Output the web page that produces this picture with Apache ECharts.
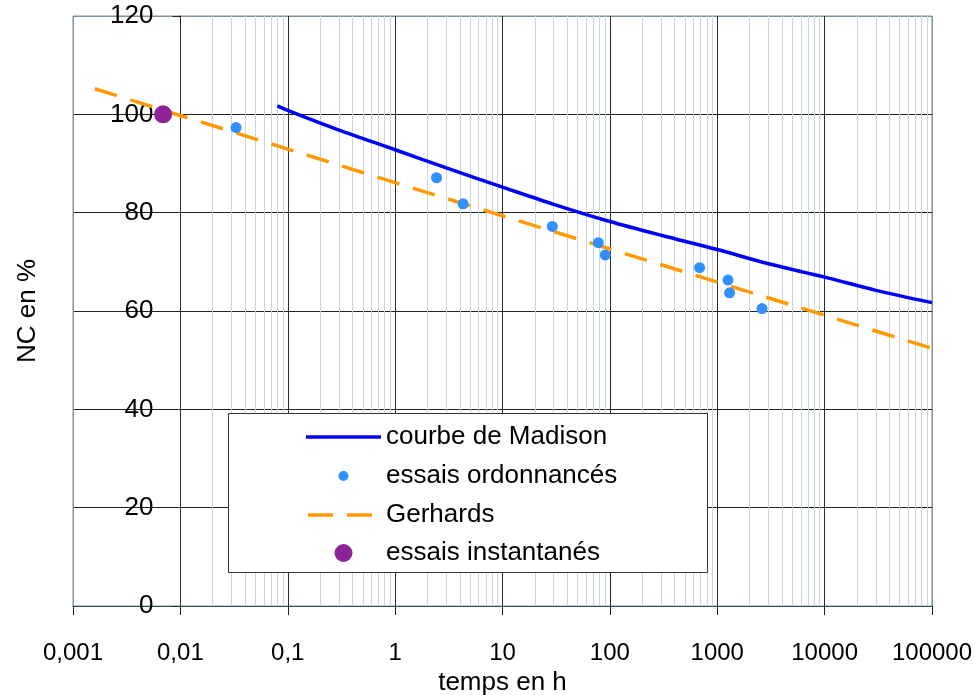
<!DOCTYPE html>
<html>
<head>
<meta charset="utf-8">
<script src="https://cdn.jsdelivr.net/npm/echarts@6/dist/echarts.min.js"></script>
<style>
html, body { margin: 0; padding: 0; background: #fff; }
#chart { width: 975px; height: 695px; }
</style>
</head>
<body>
<div id="chart"></div>
<script>
const FONT = "'Liberation Sans', Arial, Helvetica, sans-serif";

// Time axis tick labels (decimal comma), one per decade
const timeTickLabels = ['0,001', '0,01', '0,1', '1', '10', '100', '1000', '10000', '100000'];

// Madison curve: time (h) and NC (%)
const madisonTime = [0.08, 0.1, 0.3, 1, 3, 10, 30, 100, 300, 1000, 3000, 10000, 30000, 100000];
const madisonNC   = [101.7, 100.8, 96.8, 92.8, 89.1, 85.2, 81.7, 78.2, 75.4, 72.5, 69.6, 66.9, 64.2, 61.7];

// Scheduled load tests
const ordTime = [0.033, 2.43, 4.3, 29.1, 78, 90.6, 685, 1259, 1303, 2612];
const ordNC   = [97.3, 87.1, 81.8, 77.2, 73.9, 71.4, 68.8, 66.3, 63.7, 60.5];

// Gerhards model (straight line on the log time scale)
const gerhardsTime = [0.0016, 1, 100000];
const gerhardsNC   = [105.2, 86.1, 52.4];

// Short-term tests
const instTime = [0.0069];
const instNC   = [100];

const pairs = (xs, ys) => xs.map((x, i) => [x, ys[i]]);

// Minor vertical grid lines at 2..9 of every decade
const minorGrid = [];
for (let e = -3; e < 5; e++) {
  for (let k = 2; k <= 9; k++) minorGrid.push({ xAxis: k * Math.pow(10, e) });
}

const majorX = '#2b2b2b';
const border = '#7d929b';
const BLUE = '#0000ff';
const ORANGE = '#ff9900';

const chart = echarts.init(document.getElementById('chart'), null, { renderer: 'canvas' });

const legendBase = {
  orient: 'horizontal',
  padding: 0,
  itemWidth: 75,
  selectedMode: false,
  textStyle: { fontSize: 26, color: '#000', fontFamily: FONT }
};

chart.setOption({
  animation: false,
  backgroundColor: '#fff',
  grid: {
    left: 73, right: 43, top: 16, bottom: 89,
    outerBoundsMode: 'none',
    containLabel: false,
    show: true, borderColor: border, borderWidth: 1, backgroundColor: 'transparent'
  },
  xAxis: {
    type: 'log',
    logBase: 10,
    min: 0.001,
    max: 100000,
    axisLine: { show: true, lineStyle: { color: '#3b4f58', width: 1 } },
    axisTick: { show: true, length: 9, lineStyle: { color: '#222' } },
    axisLabel: {
      fontSize: 24, color: '#000', fontFamily: FONT, margin: 35,
      formatter: v => timeTickLabels[Math.round(Math.log10(v)) + 3]
    },
    splitLine: {
      show: true,
      lineStyle: { color: [border, majorX, majorX, majorX, majorX, majorX, majorX, majorX, border], width: 1 }
    },
    name: 'temps en h',
    nameLocation: 'middle',
    nameGap: 63,
    nameTextStyle: { fontSize: 26, color: '#000', fontFamily: FONT }
  },
  yAxis: {
    type: 'value',
    min: 0,
    max: 120,
    interval: 20,
    position: 'left',
    offset: -107.4,
    axisLine: { show: true, onZero: false, lineStyle: { color: majorX } },
    axisTick: { show: true, length: 8, lineStyle: { color: '#222' } },
    axisLabel: {
      fontSize: 26, color: '#000', fontFamily: FONT, margin: 27,
      padding: [10, 0, 0, 0]
    },
    splitLine: {
      show: true,
      lineStyle: { color: ['#3b4f58', '#222', '#222', '#222', '#222', '#222', border], width: 1 }
    },
    name: 'NC en %',
    nameLocation: 'middle',
    nameGap: 140,
    nameTextStyle: { fontSize: 26, color: '#000', fontFamily: FONT }
  },
  graphic: {
    elements: [{
      type: 'rect',
      z: 3,
      shape: { x: 228.5, y: 413.5, width: 479, height: 159 },
      style: { fill: '#fff', stroke: '#333', lineWidth: 1 }
    }]
  },
  legend: [
    Object.assign({}, legendBase, {
      left: 306, top: 424, itemHeight: 14,
      data: [{ name: 'courbe de Madison', icon: 'path://M0,0H75V3.5H0Z' }]
    }),
    Object.assign({}, legendBase, {
      left: 338.5, top: 463, itemHeight: 10,
      data: ['essais ordonnancés']
    }),
    Object.assign({}, legendBase, {
      left: 308, top: 502, itemWidth: 64, itemHeight: 14,
      textStyle: { fontSize: 26, color: '#000', fontFamily: FONT, padding: [0, 0, 0, 9] },
      data: [{ name: 'Gerhards', icon: 'path://M0,0H25V3.5H0Z M39,0H64V3.5H39Z' }]
    }),
    Object.assign({}, legendBase, {
      left: 334.5, top: 540, itemHeight: 18,
      data: ['essais instantanés']
    })
  ],
  series: [
    {
      // light minor grid of the log time axis
      name: 'grille',
      type: 'line',
      z: 0,
      data: [[1, 50]],
      symbol: 'none',
      silent: true,
      lineStyle: { opacity: 0 },
      markLine: {
        z: 0,
        silent: true,
        symbol: ['none', 'none'],
        label: { show: false },
        lineStyle: { color: '#c9d6dd', width: 1, type: 'solid' },
        emphasis: { disabled: true },
        data: minorGrid
      }
    },
    {
      name: 'courbe de Madison',
      type: 'line',
      z: 4,
      data: pairs(madisonTime, madisonNC),
      symbol: 'none',
      smooth: 0.3,
      lineStyle: { color: BLUE, width: 3.5 },
      itemStyle: { color: BLUE }
    },
    {
      name: 'Gerhards',
      type: 'line',
      z: 3,
      data: pairs(gerhardsTime, gerhardsNC),
      symbol: 'none',
      lineStyle: { color: ORANGE, width: 3.5, type: [23, 14] },
      itemStyle: { color: ORANGE }
    },
    {
      name: 'essais ordonnancés',
      type: 'scatter',
      z: 5,
      data: pairs(ordTime, ordNC),
      symbol: 'circle',
      symbolSize: 11,
      itemStyle: { color: '#3090ff', opacity: 1 }
    },
    {
      name: 'essais instantanés',
      type: 'scatter',
      z: 5,
      data: pairs(instTime, instNC),
      symbol: 'circle',
      symbolSize: 18,
      itemStyle: { color: '#8e2299', opacity: 1 }
    }
  ]
});
</script>
</body>
</html>
